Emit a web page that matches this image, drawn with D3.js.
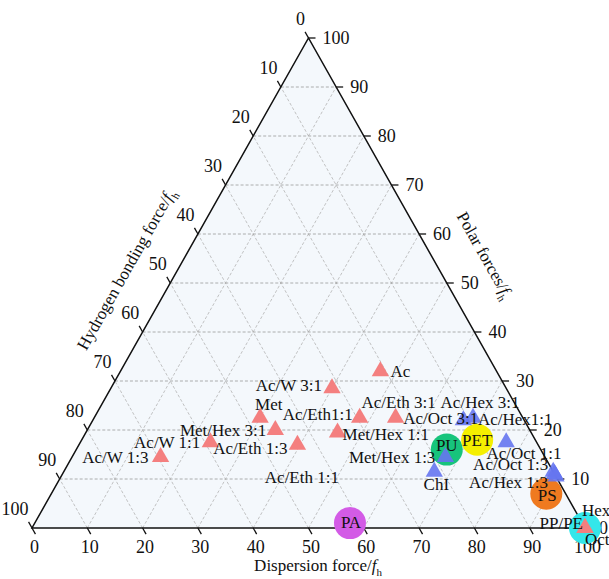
<!DOCTYPE html>
<html>
<head>
<meta charset="utf-8">
<script src="https://cdn.jsdelivr.net/npm/d3@7/dist/d3.min.js"></script>
<style>
body { margin: 0; background: #fff; }
svg { font-family: "Liberation Serif", "Times New Roman", serif; }
</style>
</head>
<body>
<svg id="chart" width="609" height="579"></svg>
<script>
// teas plot: solvents (triangles) and polymers (circles)
// fractions: fd = dispersion, fp = polar, fh = hydrogen bonding
const solventNames = ['Ac', 'Ac/W 3:1', 'Met', 'Met/Hex 3:1', 'Ac/Eth 1:3', 'Ac/Eth1:1',
  'Met/Hex 1:1', 'Ac/Eth 3:1', 'Ac/W 1:3', 'Ac/W 1:1', 'Hex', 'Oct']
const solventFd = [47, 40, 30, 34, 39.5, 48, 45.5, 54.5, 16, 23.5, 100, 100]
const solventFp = [32, 28.5, 22.5, 20, 17, 22.5, 19.5, 22.5, 14.5, 17.5, 0, 0]
const solventFh = [21, 31.5, 47.5, 46, 43.5, 29.5, 35, 23, 69.5, 59, 0, 0]

const mixNames = ['Ac/Hex 3:1', 'Ac/Oct 3:1', 'Ac/Hex1:1', 'Ac/Oct 1:1', 'Ac/Oct 1:3',
  'Ac/Hex 1:3', 'Met/Hex 1:3', 'ChI']
const mixFd = [68.5, 67, 77, 89, 88.5, 89.5, 67.5, 67]
const mixFp = [22.5, 22, 17.5, 11, 11.5, 10.5, 14.5, 11.5]
const mixFh = [9, 11, 5.5, 0, 0, 0, 18, 21.5]

const polymerNames = ['PU', 'PET', 'PS', 'PA', 'PP/PE']
const polymerFd = [67, 71.5, 89.5, 57, 100]
const polymerFp = [16, 18, 7, 1, 0]
const polymerFh = [17, 10.5, 3.5, 42, 0]
const polymerColors = ['#17c47c', '#f5ef00', '#ef7a20', '#d35be6', '#34e6ea']

// stray label in the original with no marker of its own
const extraNames = ['Ac/Eth 1:1']
const extraFd = [37.5]
const extraFp = [9.2]
const extraFh = [53.3]

const ticks = d3.range(0, 101, 10)

// label placement: [dx, dy, anchor] from the marker centre
const labelPos = {
  'Ac': [10, 6, 'start'],
  'Ac/W 3:1': [-10, 3, 'end'],
  'Met': [-5, -8, 'start'],
  'Met/Hex 3:1': [-9, 6, 'end'],
  'Ac/Eth 1:3': [-10, 9, 'end'],
  'Ac/Eth1:1': [-7, 2, 'end'],
  'Met/Hex 1:1': [5, 8, 'start'],
  'Ac/Eth 3:1': [3, -10, 'middle'],
  'Ac/W 1:3': [-12, 6, 'end'],
  'Ac/W 1:1': [-10, 6, 'end'],
  'Hex': [-3, -12, 'start'],
  'Oct': [0, 17, 'start'],
  'Ac/Hex 3:1': [7, -10, 'middle'],
  'Ac/Oct 3:1': [15, 4, 'end'],
  'Ac/Hex1:1': [9, -17, 'middle'],
  'Ac/Oct 1:1': [7, -15, 'end'],
  'Ac/Oct 1:3': [-5, -2, 'end'],
  'Ac/Hex 1:3': [-8, 11, 'end'],
  'Met/Hex 1:3': [-10, 6, 'end'],
  'ChI': [2, 18, 'middle'],
  'PU': [0, 1, 'middle'],
  'PET': [0, 6, 'middle'],
  'PS': [1, 7, 'middle'],
  'PA': [1, 5, 'middle'],
  'PP/PE': [-2, 1, 'end'],
  'Ac/Eth 1:1': [0, 0, 'start']
}

const svg = d3.select('#chart')

const x = d3.scaleLinear().domain([0, 100]).range([32, 585])
const y = d3.scaleLinear().domain([0, 100]).range([528, 38])

// ternary -> pixel, polar up, dispersion to the right
function proj (fd, fp, fh) {
  const s = fd + fp + fh
  const d = fd / s * 100
  const p = fp / s * 100
  return [x(d) + (x(p) - x(0)) / 2, y(p)]
}

const A = proj(0, 0, 100) // bottom left, pure h
const B = proj(100, 0, 0) // bottom right, pure d
const C = proj(0, 100, 0) // top, pure p

svg.append('path')
  .attr('d', 'M' + A + 'L' + B + 'L' + C + 'Z')
  .attr('fill', '#f4f8fc')

// grid
const grid = svg.append('g')
ticks.slice(1, -1).forEach(t => {
  const lines = [
    [proj(0, t, 100 - t), proj(100 - t, t, 0), '#9a9a9a'],
    [proj(t, 0, 100 - t), proj(t, 100 - t, 0), '#b4b4b4'],
    [proj(100 - t, 0, t), proj(0, 100 - t, t), '#b4b4b4']
  ]
  lines.forEach(l => {
    grid.append('line')
      .attr('x1', l[0][0]).attr('y1', l[0][1])
      .attr('x2', l[1][0]).attr('y2', l[1][1])
      .attr('stroke', l[2])
      .attr('stroke-width', 0.8)
      .attr('stroke-dasharray', '3,2')
  })
})

// frame
svg.append('path')
  .attr('d', 'M' + A + 'L' + B + 'L' + C + 'Z')
  .attr('fill', 'none')
  .attr('stroke', '#111')
  .attr('stroke-width', 1.5)

// ticks and tick labels
const tickLen = 7
const ux = (C[0] - B[0]) / Math.hypot(C[0] - B[0], C[1] - B[1])
const uy = (C[1] - B[1]) / Math.hypot(C[0] - B[0], C[1] - B[1])
const axes = svg.append('g').attr('font-size', 18).attr('fill', '#111')
ticks.forEach(t => {
  // left: hydrogen bonding, 0 at top
  let p = proj(0, 100 - t, t)
  let e = [p[0] + ux * tickLen, p[1] + uy * tickLen]
  axes.append('line').attr('x1', p[0]).attr('y1', p[1]).attr('x2', e[0]).attr('y2', e[1])
    .attr('stroke', '#111').attr('stroke-width', 1.3)
  axes.append('text').attr('x', e[0]).attr('y', e[1] - 7)
    .attr('text-anchor', 'end').text(t)

  // bottom: dispersion
  p = proj(t, 0, 100 - t)
  e = [p[0] - ux * tickLen, p[1] + uy * -tickLen]
  axes.append('line').attr('x1', p[0]).attr('y1', p[1]).attr('x2', e[0]).attr('y2', e[1])
    .attr('stroke', '#111').attr('stroke-width', 1.3)
  axes.append('text').attr('x', e[0] - 1).attr('y', e[1] + 19)
    .attr('text-anchor', 'middle').text(t)

  // right: polar
  p = proj(100 - t, t, 0)
  e = [p[0] + tickLen, p[1]]
  axes.append('line').attr('x1', p[0]).attr('y1', p[1]).attr('x2', e[0]).attr('y2', e[1])
    .attr('stroke', '#111').attr('stroke-width', 1.3)
  axes.append('text').attr('x', e[0] + 7).attr('y', e[1]).attr('dy', '0.35em')
    .attr('text-anchor', 'start').text(t)
})

// axis titles
const angle = Math.atan2(C[1] - A[1], C[0] - A[0]) * 180 / Math.PI
function title (g, label) {
  const t = g.append('text').attr('font-size', 17).attr('fill', '#111')
    .attr('text-anchor', 'middle')
  t.append('tspan').text(label)
  t.append('tspan').attr('font-style', 'italic').text('f')
  t.append('tspan').attr('font-size', 11).attr('dy', 5).text('h')
  return t
}
title(svg.append('g').attr('transform', 'translate(318,571)'), 'Dispersion force/')
title(svg.append('g').attr('transform', 'translate(131,272) rotate(' + angle + ')'), 'Hydrogen bonding force/')
title(svg.append('g').attr('transform', 'translate(480,258) rotate(' + (-angle) + ')'), 'Polar forces/')

// markers
const polymers = polymerNames.map((n, i) => ({ name: n, pos: proj(polymerFd[i], polymerFp[i], polymerFh[i]), color: polymerColors[i] }))
const solvents = solventNames.map((n, i) => ({ name: n, pos: proj(solventFd[i], solventFp[i], solventFh[i]) }))
const mixes = mixNames.map((n, i) => ({ name: n, pos: proj(mixFd[i], mixFp[i], mixFh[i]) }))
const extras = extraNames.map((n, i) => ({ name: n, pos: proj(extraFd[i], extraFp[i], extraFh[i]) }))

svg.append('g').selectAll('circle')
  .data(polymers)
  .enter()
  .append('circle')
  .attr('cx', d => d.pos[0])
  .attr('cy', d => d.pos[1])
  .attr('r', 16)
  .attr('fill', d => d.color)

const tri = d3.symbol().type(d3.symbolTriangle).size(130)
svg.append('g').selectAll('path')
  .data(mixes)
  .enter()
  .append('path')
  .attr('d', tri)
  .attr('transform', d => 'translate(' + d.pos + ')')
  .attr('fill', '#6676f0')
  .attr('fill-opacity', 0.9)

svg.append('g').selectAll('path')
  .data(solvents)
  .enter()
  .append('path')
  .attr('d', tri)
  .attr('transform', d => 'translate(' + d.pos + ')')
  .attr('fill', '#f47f7f')

// labels last so they sit on top
svg.append('g')
  .attr('font-size', 17)
  .attr('fill', '#111')
  .selectAll('text')
  .data(polymers.concat(solvents, mixes, extras))
  .enter()
  .append('text')
  .attr('x', d => d.pos[0] + labelPos[d.name][0])
  .attr('y', d => d.pos[1] + labelPos[d.name][1])
  .attr('text-anchor', d => labelPos[d.name][2])
  .text(d => d.name)
</script>
</body>
</html>
